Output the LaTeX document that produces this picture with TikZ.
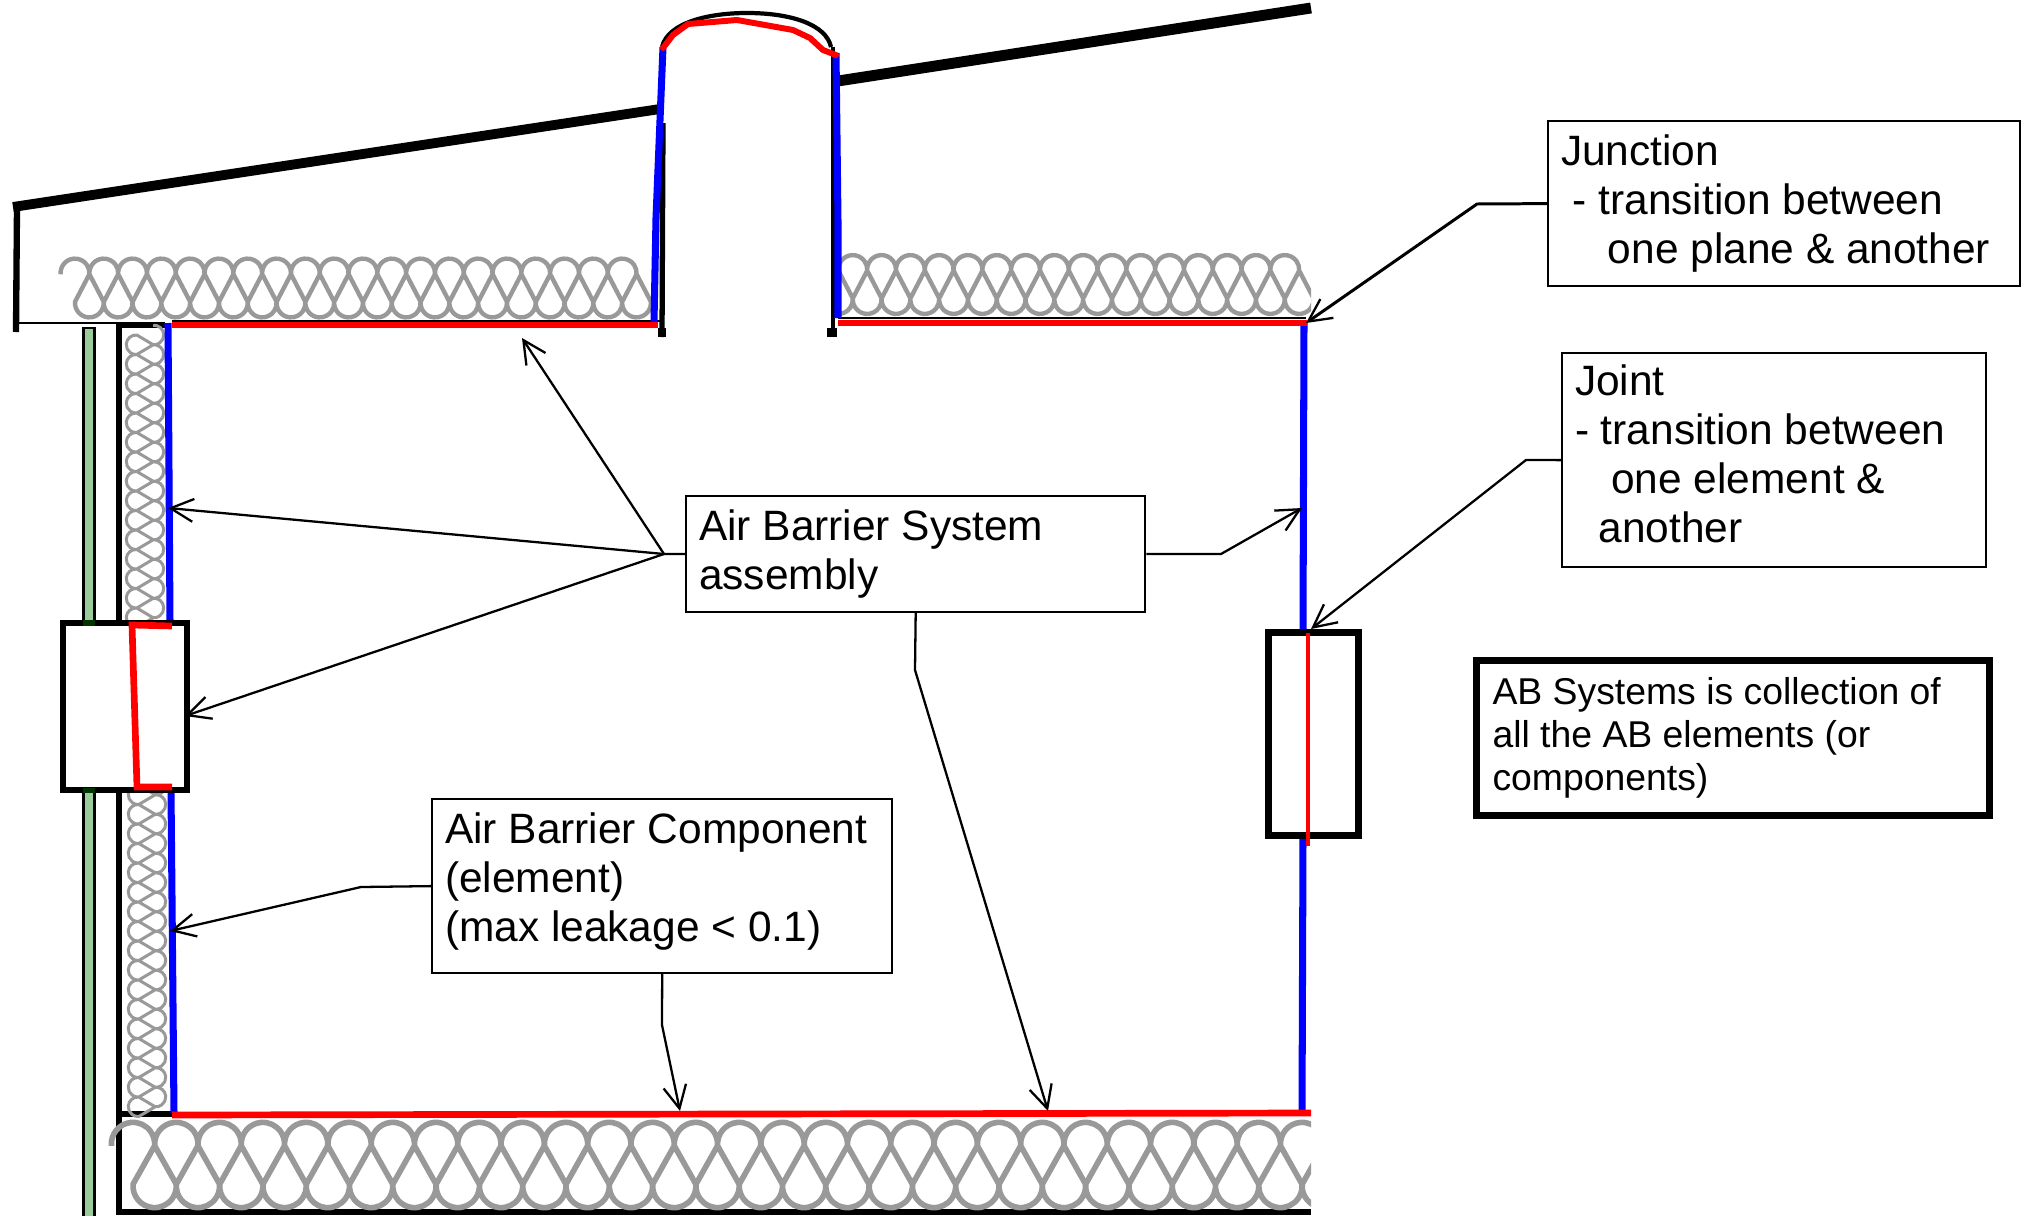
\documentclass[tikz,border=0pt]{standalone}
\usepackage{fontspec}
\setmainfont{Liberation Sans}
\usepackage{xcolor}
\usetikzlibrary{positioning,arrows.meta}
\definecolor{cbatt}{RGB}{153,153,153}
\definecolor{csiding}{RGB}{153,204,153}
\definecolor{csidingdk}{RGB}{0,51,0}
\definecolor{cblue}{RGB}{0,0,255}
\definecolor{cred}{RGB}{255,0,0}

% one run of coiled insulation: loops, pitch, depth
\newcommand{\battcoil}[3]{%
  \pgfmathsetmacro{\battrad}{#2/2}
  \pgfmathsetmacro{\battdx}{#2/2-2*\battrad*cos(5)}
  \pgfmathsetmacro{\battdy}{#3-2*\battrad*sin(5)}
  \pgfmathsetmacro{\battsx}{-\battrad*cos(5)}
  \pgfmathsetmacro{\battsy}{\battrad*sin(5)}
  \draw[batt] (\battsx,\battsy)
    \foreach \i in {1,...,#1}{
      arc[start angle=175,end angle=365,radius=\battrad]
      -- ++(\battdx,\battdy)
      arc[start angle=185,end angle=-5,radius=\battrad]
      -- ++(\battdx,-\battdy)
    };
}

\begin{document}
\begin{tikzpicture}[
  x=0.01cm,y=-0.01cm,
  font=\fontsize{12.07}{13.9}\selectfont,
  batt/.style={draw=cbatt,line width=1.25pt,line join=round},
  roofln/.style={line width=2.8pt},
  wallln/.style={line width=1.5pt},
  thinln/.style={line width=0.6pt},
  siding/.style={draw=black,fill=csiding,line width=0.85pt},
  sidingdk/.style={fill=csidingdk},
  abred/.style={draw=cred,line width=1.9pt},
  abblue/.style={draw=cblue,line width=2pt},
  opening/.style={draw=black,fill=white,line width=1.7pt},
  lead/.style={line width=0.65pt},
  leadarr/.style={lead,-{Straight Barb[length=6.5pt,width=6.5pt,line width=0.65pt]}},
  labbox/.style={draw=black,line width=0.6pt,fill=white,align=flush left,inner xsep=0.13cm,inner ysep=0pt,anchor=north west},
]
\useasboundingbox (0,0) rectangle (2021,1215);

% =========== roof, eave and chimney ============
\draw[roofln] (13,207) -- (660,109);
\draw[roofln,line width=3.1pt] (838,81) -- (1311,8);
\draw[wallln,line width=1.8pt] (17,207) -- (16,332);
\draw[thinln] (18,323) -- (119,323);
\draw[wallln,line width=1.7pt] (119,325) -- (165,325);
\draw[thinln] (172,321) -- (660,321);
\draw[thinln] (838,318) -- (1306,318);
\draw[wallln,line width=1.2pt] (662,47) .. controls (668,22) and (710,13) .. (747,13)
  .. controls (790,13) and (826,24) .. (831,47);
\draw[wallln] (663,123) -- (662,337);
\draw[wallln,line width=1pt] (833,47) -- (833,337);
\draw[wallln,line width=2.3pt] (662,328) -- (662,337);
\draw[wallln,line width=2.8pt] (832,328) -- (832,337);

% =========== wall and floor ============
\draw[wallln] (119,323) -- (119,1215);
\draw[wallln,line width=1.7pt] (119,1114) -- (172,1114);
\draw[wallln] (119,1212) -- (1311,1212);
\draw[siding] (83.5,328) rectangle (94.5,628);
\draw[siding] (83.5,788) rectangle (94.5,1217);

% =========== insulation ============
\begin{scope}[shift={(75,273)}]
  \battcoil{20}{28.8}{30}
\end{scope}
\begin{scope}
  \clip (840,240) rectangle (1311,330);
  \begin{scope}[shift={(824,269.5)}]
    \battcoil{17}{28.8}{30}
  \end{scope}
\end{scope}
\begin{scope}[shift={(154,335)},rotate=-90,batt/.append style={line width=0.85pt}]
  \battcoil{15}{19.5}{18}
\end{scope}
\begin{scope}[shift={(156,785)},rotate=-90,batt/.append style={line width=0.85pt}]
  \battcoil{17}{19.5}{18}
\end{scope}
\begin{scope}[batt/.append style={line width=1.6pt}]
  \clip (100,1100) rectangle (1311,1215);
  \begin{scope}[shift={(133,1144)}]
    \battcoil{28}{43.3}{42}
  \end{scope}
\end{scope}

% =========== air barrier lines ============
\draw[abblue] (168,323) -- (170,622);
\draw[abblue] (171,790) -- (174,1113);
\draw[abblue] (663,47) -- (656,218) -- (654,322);
\draw[abblue] (836,53) -- (838,222) -- (838,318);
\draw[abblue] (1304,322) -- (1303,632);
\draw[abblue] (1303,838) -- (1302,1114);
\draw[abred] (172,325) -- (658,325);
\draw[abred] (838,323) -- (1307,323);
\draw[abred] (172,1115) -- (1311,1113);
\draw[abred,line width=1.7pt,line cap=round,line join=round] (663,48) -- (673,35) -- (688,24) -- (737,20)
  -- (793,30) -- (810,38) -- (823,50) -- (836,55);

% =========== window and door openings ============
\draw[opening] (63,623) rectangle (187,790);
\fill[sidingdk] (83,620) rectangle (95,626);
\fill[sidingdk] (83,788) rectangle (95,793);
\draw[abred] (172,626) -- (132,625) -- (137,787) -- (172,787);
\draw[opening,line width=2pt] (1268.5,632.5) rectangle (1358.5,835.5);
\draw[abred,line width=1.1pt] (1308,633) -- (1308,846);

% =========== labels ============
\node[labbox,text width=4.33cm,minimum height=1.16cm] (sysBox) at (685,495)
  {Air Barrier System\\assembly};
\node[labbox,text width=4.34cm,minimum height=1.74cm] (compBox) at (431,798)
  {Air Barrier Component\\(element)\\(max leakage < 0.1)\rule[-5.2pt]{0pt}{5.2pt}};
\node[labbox,text width=4.46cm,minimum height=1.65cm] (juncBox) at (1547,120)
  {Junction\\\hspace*{3.3pt}- transition between\\\hspace*{13.3pt}one plane \& another};
\node[labbox,text width=3.98cm,minimum height=2.14cm] (jointBox) at (1561,352)
  {Joint\\- transition between\\\hspace*{10.3pt}one element \&\\\hspace*{6.7pt}another\rule[-3.6pt]{0pt}{3.6pt}};
\node[labbox,line width=2pt,inner xsep=0.16cm,font=\fontsize{10.62}{12.3}\selectfont,text width=4.81cm,minimum height=1.55cm] (noteBox) at (1473,657)
  {AB Systems is collection of\\all the AB elements (or\\components)};

% =========== leaders ============
\coordinate (sysFork) at (664,554);
\coordinate (sysElbowR) at (1221,554);
\coordinate (sysElbowB) at (915,670);
\coordinate (compElbowL) at (361,887);
\coordinate (compElbowB) at (662,1025);
\coordinate (juncElbow) at (1477,204);
\coordinate (jointElbow) at (1526,460);
\coordinate (tgtCeil) at (522,338);
\coordinate (tgtWallA) at (168,508);
\coordinate (tgtWindow) at (185,716);
\coordinate (tgtWallR) at (1302,508);
\coordinate (tgtFloorA) at (1048,1111);
\coordinate (tgtWallB) at (170,931);
\coordinate (tgtFloorB) at (680,1111);
\coordinate (tgtJunc) at (1306,323);
\coordinate (tgtJoint) at (1311,629);

\draw[lead] (sysBox.west) -- (sysFork);
\draw[leadarr] (sysFork) -- (tgtCeil);
\draw[leadarr] (sysFork) -- (tgtWallA);
\draw[leadarr] (sysFork) -- (tgtWindow);
\draw[leadarr] (sysBox.east) -- (sysElbowR) -- (tgtWallR);
\draw[leadarr] (sysBox.south) -- (sysElbowB) -- (tgtFloorA);
\draw[leadarr] (compBox.west) -- (compElbowL) -- (tgtWallB);
\draw[leadarr] (compBox.south) -- (compElbowB) -- (tgtFloorB);
\draw[leadarr,line width=0.85pt] (juncBox.west) -- (juncElbow) -- (tgtJunc);
\draw[leadarr] (jointBox.west) -- (jointElbow) -- (tgtJoint);
\end{tikzpicture}
\end{document}
